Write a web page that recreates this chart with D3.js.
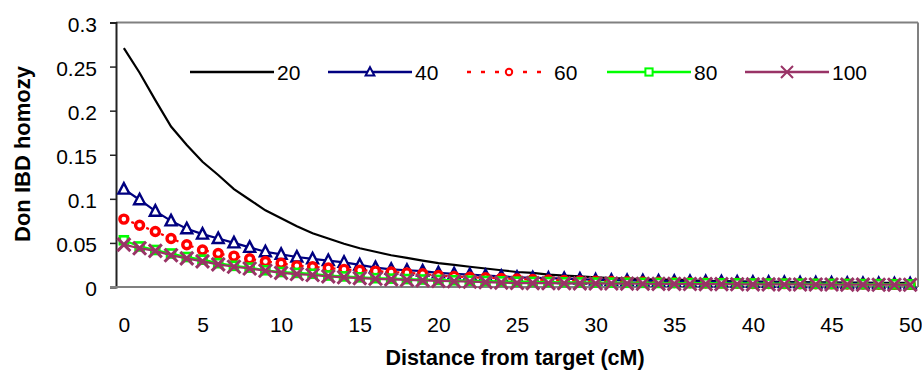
<!DOCTYPE html>
<html>
<head>
<meta charset="utf-8">
<script src="https://cdn.jsdelivr.net/npm/d3@7"></script>
<style>
  body { margin: 0; background: #fff; }
  text { font-family: "Liberation Sans", Arial, sans-serif; }
</style>
</head>
<body>
<svg id="chart" width="922" height="371"></svg>
<script>
// distance from target, cM
const distance = d3.range(0, 51);
const xTickLabels = [0, 5, 10, 15, 20, 25, 30, 35, 40, 45, 50];
const yTicks = [0, 0.05, 0.1, 0.15, 0.2, 0.25, 0.3];
const seriesNames = ["20", "40", "60", "80", "100"];

const gen20 = [0.271,0.243,0.212,0.182,0.161,0.142,0.127,0.111,0.099,0.087,
  0.078,0.069,0.061,0.055,0.049,0.044,0.040,0.036,0.033,0.030,
  0.027,0.025,0.023,0.021,0.019,0.017,0.016,0.014,0.013,0.012,
  0.011,0.010,0.0095,0.009,0.0085,0.008,0.0075,0.007,0.0068,0.0065,
  0.0062,0.006,0.0058,0.0056,0.0054,0.0052,0.005,0.0049,0.0048,0.0047,0.0046];
const gen40 = [0.111,0.099,0.086,0.075,0.066,0.060,0.055,0.050,0.045,0.040,
  0.037,0.034,0.032,0.030,0.028,0.025,0.022,0.020,0.019,0.018,
  0.016,0.015,0.014,0.013,0.012,0.011,0.0105,0.010,0.0095,0.009,
  0.008,0.0077,0.0074,0.0071,0.0068,0.0065,0.0062,0.006,0.0058,0.0056,
  0.0054,0.0052,0.005,0.0048,0.0046,0.0044,0.0042,0.004,0.0038,0.0037,0.0035];
const gen60 = [0.077,0.070,0.063,0.055,0.048,0.042,0.038,0.035,0.032,0.029,
  0.027,0.024,0.023,0.0216,0.020,0.019,0.018,0.017,0.016,0.015,
  0.013,0.012,0.011,0.0105,0.0098,0.009,0.0085,0.008,0.0074,0.007,
  0.0065,0.0062,0.006,0.0057,0.0054,0.005,0.0048,0.0046,0.0044,0.0042,
  0.004,0.0039,0.0038,0.0037,0.0036,0.0035,0.0034,0.0033,0.0032,0.0031,0.003];
const gen80 = [0.053,0.046,0.042,0.038,0.034,0.031,0.027,0.024,0.022,0.019,
  0.017,0.016,0.015,0.013,0.012,0.011,0.010,0.0095,0.009,0.0085,
  0.008,0.0076,0.0072,0.0068,0.0064,0.006,0.0058,0.0056,0.0054,0.0052,
  0.005,0.0049,0.0048,0.0047,0.0046,0.0045,0.0044,0.0043,0.0042,0.0041,
  0.004,0.0039,0.0038,0.0037,0.0036,0.0035,0.0034,0.0033,0.0032,0.0031,0.003];
const gen100 = [0.048,0.044,0.041,0.036,0.0325,0.029,0.0257,0.023,0.021,0.0185,
  0.016,0.0147,0.0136,0.012,0.011,0.010,0.0093,0.0087,0.008,0.0075,
  0.007,0.0065,0.006,0.0055,0.005,0.0045,0.0044,0.0043,0.0042,0.0041,
  0.004,0.0039,0.0038,0.0037,0.0036,0.0035,0.0034,0.0033,0.0032,0.0031,
  0.003,0.003,0.0029,0.0029,0.0028,0.0028,0.0027,0.0027,0.0026,0.0026,0.0025];

const series = [
  { name: seriesNames[0], values: gen20, color: "#000000", dash: null, marker: "none" },
  { name: seriesNames[1], values: gen40, color: "#000080", dash: null, marker: "triangle" },
  { name: seriesNames[2], values: gen60, color: "#ff0000", dash: "3,5", marker: "circle" },
  { name: seriesNames[3], values: gen80, color: "#00ff00", dash: null, marker: "square" },
  { name: seriesNames[4], values: gen100, color: "#993366", dash: null, marker: "cross" }
];

const svg = d3.select("#chart");
const plotLeft = 116, plotRight = 918, plotTop = 22.5, plotBottom = 287;

const x = d3.scalePoint().domain(distance).range([plotLeft, plotRight]).padding(0.5);
const y = d3.scaleLinear().domain([0, 0.3]).range([plotBottom, plotTop]);

// plot area border
svg.append("line").attr("x1", plotLeft).attr("x2", plotRight).attr("y1", plotTop).attr("y2", plotTop)
  .attr("stroke", "#808080").attr("stroke-width", 2);
svg.append("line").attr("x1", plotRight).attr("x2", plotRight).attr("y1", plotTop).attr("y2", plotBottom)
  .attr("stroke", "#808080").attr("stroke-width", 2);

// y axis
const yAxis = svg.append("g").attr("transform", `translate(${plotLeft},0)`)
  .call(d3.axisLeft(y).tickValues(yTicks).tickSize(6).tickPadding(13)
    .tickFormat(d => String(+d.toFixed(2))));
yAxis.select(".domain").attr("stroke", "#222").attr("stroke-width", 2);
yAxis.selectAll(".tick line").attr("stroke", "#222").attr("stroke-width", 1.5);
yAxis.selectAll(".tick text").attr("font-size", 21).attr("fill", "#000").attr("dy", "0.42em")
  .attr("font-family", "Liberation Sans, Arial, sans-serif");

// x axis
const xAxis = svg.append("g").attr("transform", `translate(0,${plotBottom})`)
  .call(d3.axisBottom(x).tickValues(xTickLabels).tickSize(0).tickPadding(30));
xAxis.select(".domain").attr("stroke", "#808080").attr("stroke-width", 2)
  .attr("d", `M${plotLeft - 6},0H${plotRight}`);
xAxis.selectAll(".tick text").attr("font-size", 21).attr("fill", "#000")
  .attr("font-family", "Liberation Sans, Arial, sans-serif");

// titles
svg.append("text").attr("x", 515).attr("y", 365).attr("text-anchor", "middle")
  .attr("font-size", 21.5).attr("font-weight", "bold").text("Distance from target (cM)");
svg.append("text").attr("transform", "translate(30,154) rotate(-90)")
  .attr("text-anchor", "middle").attr("font-size", 22).attr("font-weight", "bold")
  .text("Don IBD homozy");

function drawMarker(g, type, color, cx, cy, s, w) {
  if (type === "triangle") {
    g.append("path")
      .attr("d", `M${cx},${cy - s * 0.6}L${cx + s * 0.55},${cy + s * 0.45}L${cx - s * 0.55},${cy + s * 0.45}Z`)
      .attr("fill", "#fff").attr("stroke", color).attr("stroke-width", w);
  } else if (type === "circle") {
    g.append("circle").attr("cx", cx).attr("cy", cy).attr("r", s * 0.4)
      .attr("fill", "#fff").attr("stroke", color).attr("stroke-width", w);
  } else if (type === "square") {
    g.append("rect").attr("x", cx - s * 0.4).attr("y", cy - s * 0.4)
      .attr("width", s * 0.8).attr("height", s * 0.8)
      .attr("fill", "#fff").attr("stroke", color).attr("stroke-width", w);
  } else if (type === "cross") {
    const h = s * 0.5;
    g.append("path")
      .attr("d", `M${cx - h},${cy - h}L${cx + h},${cy + h}M${cx - h},${cy + h}L${cx + h},${cy - h}`)
      .attr("stroke", color).attr("stroke-width", w).attr("fill", "none");
  }
}

const line = d3.line().x((d, i) => x(distance[i])).y(d => y(d));
const markerSize = { triangle: 10, circle: 10, square: 10, cross: 13 };
const markerWidth = { triangle: 2.4, circle: 3.4, square: 2.6, cross: 3 };
const legendMarker = { triangle: 8, circle: 8, square: 9, cross: 12 };

series.forEach(s => {
  const g = svg.append("g");
  g.append("path").datum(s.values).attr("d", line).attr("fill", "none")
    .attr("stroke", s.color).attr("stroke-width", 2.2)
    .attr("stroke-dasharray", s.dash);
  if (s.marker !== "none") {
    s.values.forEach((v, i) => drawMarker(g, s.marker, s.color, x(distance[i]), y(v),
      markerSize[s.marker], markerWidth[s.marker]));
  }
});

// legend
const legendX = [190, 328, 467, 607, 745];
const legendY = 72;
series.forEach((s, i) => {
  const g = svg.append("g");
  const x0 = legendX[i];
  g.append("line").attr("x1", x0).attr("x2", x0 + 84).attr("y1", legendY).attr("y2", legendY)
    .attr("stroke", s.color).attr("stroke-width", 2.5)
    .attr("stroke-dasharray", s.dash ? "4,10" : null);
  if (s.marker !== "none") drawMarker(g, s.marker, s.color, x0 + 42, legendY, legendMarker[s.marker], 2);
  g.append("text").attr("x", x0 + 87).attr("y", legendY + 8).attr("font-size", 21).text(s.name);
});
</script>
</body>
</html>
